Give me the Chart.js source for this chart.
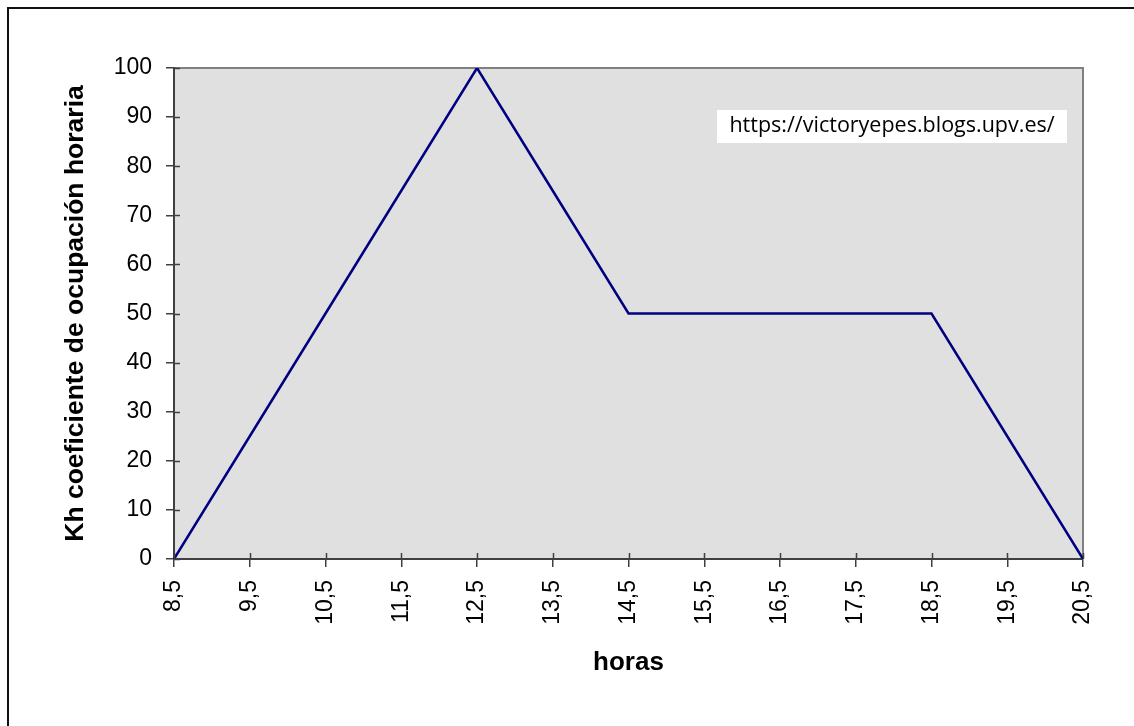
<!DOCTYPE html>
<html>
<head>
<meta charset="utf-8">
<script src="https://cdn.jsdelivr.net/npm/chart.js@4"></script>
<style>
  body { margin: 0; background: #fff; }
  #frame {
    position: absolute; left: 7px; top: 7px; right: 0; bottom: 0;
    border-top: 2px solid #111; border-left: 2px solid #111;
  }
  #chart { position: absolute; left: 0; top: 0; }
</style>
</head>
<body>
<div id="frame"></div>
<canvas id="chart" width="1134" height="726"></canvas>
<script>
// horas (eje x)
const horas = ["8,5", "9,5", "10,5", "11,5", "12,5", "13,5", "14,5", "15,5", "16,5", "17,5", "18,5", "19,5", "20,5"];
// Kh coeficiente de ocupación horaria
const kh = [0, 25, 50, 75, 100, 75, 50, 50, 50, 50, 50, 25, 0];

const watermark = "https://victoryepes.blogs.upv.es/";

// fondo gris del area + bordes + marcas de tick hacia dentro
const plotArea = {
  id: "plotArea",
  beforeDraw(chart) {
    const { ctx, chartArea: a } = chart;
    ctx.save();
    ctx.fillStyle = "#e0e0e0";
    ctx.fillRect(a.left, a.top, a.right - a.left, a.bottom - a.top);
    ctx.strokeStyle = "#808080";
    ctx.lineWidth = 2;
    ctx.beginPath();
    ctx.moveTo(a.left, a.top);
    ctx.lineTo(a.right, a.top);
    ctx.lineTo(a.right, a.bottom);
    ctx.stroke();
    ctx.restore();
  },
  afterDatasetsDraw(chart) {
    const { ctx, chartArea: a, scales } = chart;
    ctx.save();
    ctx.strokeStyle = "#404040";
    ctx.lineWidth = 1.5;
    ctx.beginPath();
    scales.y.ticks.forEach((t, i) => {
      const y = Math.round(scales.y.getPixelForTick(i)) + 0.5;
      ctx.moveTo(a.left, y);
      ctx.lineTo(a.left + 6, y);
    });
    scales.x.ticks.forEach((t, i) => {
      const x = Math.round(scales.x.getPixelForTick(i)) + 0.5;
      ctx.moveTo(x, a.bottom);
      ctx.lineTo(x, a.bottom - 6);
    });
    ctx.stroke();

    // caja del enlace
    ctx.fillStyle = "#fff";
    ctx.fillRect(717, 110, 350, 33);
    ctx.fillStyle = "#000";
    ctx.font = "21.5px 'Open Sans'";
    ctx.textBaseline = "middle";
    ctx.textAlign = "center";
    ctx.fillText(watermark, 892, 126, 336);
    ctx.restore();
  }
};

new Chart(document.getElementById("chart"), {
  type: "line",
  data: {
    labels: horas,
    datasets: [{
      data: kh,
      borderColor: "#000080",
      borderWidth: 2.5,
      pointRadius: 0,
      tension: 0,
      fill: false
    }]
  },
  options: {
    responsive: false,
    animation: false,
    devicePixelRatio: 1,
    layout: { padding: { top: 68, right: 51, left: 0, bottom: 0 } },
    plugins: { legend: { display: false }, tooltip: { enabled: false } },
    scales: {
      x: {
        offset: false,
        afterFit: (s) => { s.height = 167; },
        grid: { drawOnChartArea: false, drawTicks: true, tickLength: 8, color: "#404040", lineWidth: 1.5, offset: false },
        border: { color: "#404040", width: 2 },
        ticks: {
          color: "#000",
          font: { family: "'Liberation Sans', Arial", size: 23 },
          maxRotation: 90, minRotation: 90,
          padding: 13,
          autoSkip: false
        },
        title: {
          display: true,
          text: "horas",
          color: "#000",
          font: { family: "'Liberation Sans', Arial", size: 26, weight: "bold" },
          padding: { top: 0, bottom: 48 }
        }
      },
      y: {
        min: 0,
        max: 100,
        afterFit: (s) => { s.width = 174; },
        grid: { drawOnChartArea: false, drawTicks: true, tickLength: 8, color: "#404040", lineWidth: 1.5 },
        border: { color: "#404040", width: 2 },
        ticks: {
          stepSize: 10,
          color: "#000",
          font: { family: "'Liberation Sans', Arial", size: 23 },
          padding: 14
        },
        title: {
          display: true,
          text: "Kh coeficiente de ocupación horaria",
          color: "#000",
          font: { family: "'Liberation Sans', Arial", size: 26.5, weight: "bold" },
          padding: { top: 60, bottom: 0 }
        }
      }
    }
  },
  plugins: [plotArea]
});
</script>
</body>
</html>
